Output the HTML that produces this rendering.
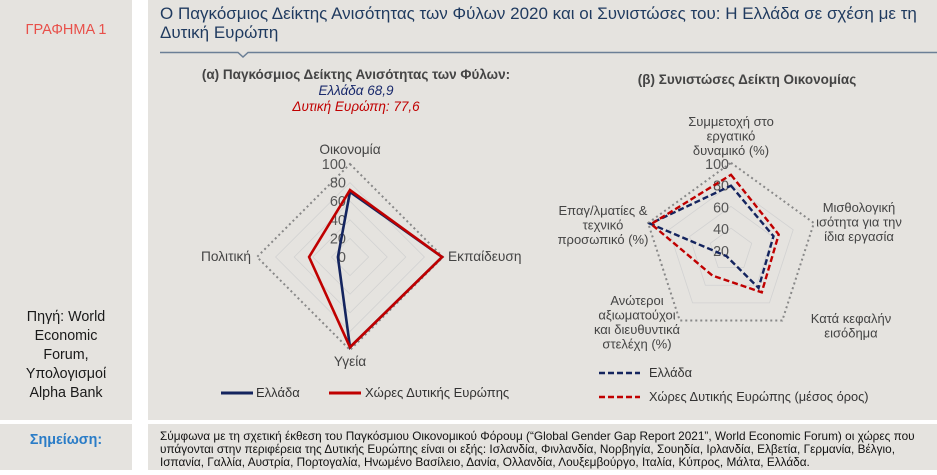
<!DOCTYPE html>
<html><head><meta charset="utf-8">
<style>
html,body{margin:0;padding:0;background:#fff;}
body{width:937px;height:470px;overflow:hidden;font-family:"Liberation Sans",sans-serif;}
svg text{font-family:"Liberation Sans","DejaVu Sans",sans-serif;}
</style></head><body>
<svg id="root" width="937" height="470" viewBox="0 0 937 470" xmlns="http://www.w3.org/2000/svg">
<rect x="0" y="0" width="937" height="470" fill="#ffffff"/>
<rect x="0" y="0" width="132" height="420" fill="#e5e3df"/>
<rect x="148" y="0" width="789" height="420" fill="#e5e3df"/>
<rect x="0" y="424" width="132" height="46" fill="#e5e3df"/>
<rect x="148" y="424" width="789" height="46" fill="#e5e3df"/>
<text x="66" y="34" text-anchor="middle" font-size="14.5" fill="#e8504a">ΓΡΑΦΗΜΑ 1</text>
<g font-size="14.3" fill="#1a1a1a" text-anchor="middle">
<text x="66" y="321">Πηγή: World</text><text x="66" y="340">Economic</text><text x="66" y="359">Forum,</text><text x="66" y="378">Υπολογισμοί</text><text x="66" y="397">Alpha Bank</text>
</g>
<text x="66" y="444" text-anchor="middle" font-size="14.3" font-weight="bold" fill="#2a7cc7">Σημείωση:</text>
<g font-size="17" fill="#1f3a5f">
<text x="160" y="19">Ο Παγκόσμιος Δείκτης Ανισότητας των Φύλων 2020 και οι Συνιστώσες του: Η Ελλάδα σε σχέση με τη</text>
<text x="160" y="38">Δυτική Ευρώπη</text>
</g>
<path d="M160 52.5 H238 L243 57 L248 52.5 H937" stroke="#6b7f96" stroke-width="1.5" fill="none"/>
<g font-size="11.8" fill="#111">
<text x="160" y="440">Σύμφωνα με τη σχετική έκθεση του Παγκόσμιου Οικονομικού Φόρουμ (“Global Gender Gap Report 2021”, World Economic Forum) οι χώρες που</text>
<text x="160" y="453">υπάγονται στην περιφέρεια της Δυτικής Ευρώπης είναι οι εξής: Ισλανδία, Φινλανδία, Νορβηγία, Σουηδία, Ιρλανδία, Ελβετία, Γερμανία, Βέλγιο,</text>
<text x="160" y="466">Ισπανία, Γαλλία, Αυστρία, Πορτογαλία, Ηνωμένο Βασίλειο, Δανία, Ολλανδία, Λουξεμβούργο, Ιταλία, Κύπρος, Μάλτα, Ελλάδα.</text>
</g>
<g font-size="13.5" text-anchor="middle">
<text x="356" y="79" font-weight="bold" fill="#444">(α) Παγκόσμιος Δείκτης Ανισότητας των Φύλων:</text>
<text x="356" y="95" font-style="italic" fill="#1a2a6c">Ελλάδα 68,9</text>
<text x="356" y="111" font-style="italic" fill="#c00000">Δυτική Ευρώπη: 77,6</text>
</g>
<text x="747" y="84" text-anchor="middle" font-size="13.5" font-weight="bold" fill="#444">(β) Συνιστώσες Δείκτη Οικονομίας</text>
<g id="chartA"></g>
<g id="chartB"></g>
<g font-size="13" fill="#333">
<line x1="221" y1="393" x2="253" y2="393" stroke="#14245e" stroke-width="3"/>
<text x="256" y="397">Ελλάδα</text>
<line x1="329" y1="393" x2="361" y2="393" stroke="#c00000" stroke-width="3"/>
<text x="365" y="397">Χώρες Δυτικής Ευρώπης</text>
</g>
<g font-size="12.8" fill="#333">
<line x1="599" y1="373" x2="640" y2="373" stroke="#14245e" stroke-width="2.5" stroke-dasharray="6,3"/>
<text x="649" y="377">Ελλάδα</text>
<line x1="599" y1="397" x2="640" y2="397" stroke="#c00000" stroke-width="2.5" stroke-dasharray="6,3"/>
<text x="649" y="401">Χώρες Δυτικής Ευρώπης (μέσος όρος)</text>
</g>
</svg>
<script>
const aCategories = ["Οικονομία","Εκπαίδευση","Υγεία","Πολιτική"];
const aGreece = [70, 99, 97, 13];
const aWestEurope = [72, 99, 97, 44];
const aTicks = ["0","20","40","60","80","100"];
const bCategories = [["Συμμετοχή στο","εργατικό","δυναμικό (%)"],["Μισθολογική","ισότητα για την","ίδια εργασία"],["Κατά κεφαλήν","εισόδημα"],["Ανώτεροι","αξιωματούχοι","και διευθυντικά","στελέχη (%)"],["Επαγ/λματίες &","τεχνικό","προσωπικό (%)"]];
const bGreece = [79, 61, 63, 27, 98];
const bWestEurope = [89, 66, 68, 49, 97];
const bTicks = ["20","40","60","80","100"];

const NS = "http://www.w3.org/2000/svg";
function mk(parent, tag, attrs){const e=document.createElementNS(NS,tag);for(const k in attrs)e.setAttribute(k,attrs[k]);parent.appendChild(e);return e;}

function radar(g, cx, cy, R, n, min, max){
  return function(i, v){const ang=-Math.PI/2+2*Math.PI*i/n;const r=R*(v-min)/(max-min);return [cx+r*Math.cos(ang), cy+r*Math.sin(ang)];};
}

// Chart A
(function(){
  const g=document.getElementById("chartA");
  const cx=350, cy=257, R=93, n=aCategories.length;
  const P=radar(g,cx,cy,R,n,0,100);
  [20,40,60,80,100].forEach(function(t){
    const pts=aCategories.map((c,i)=>P(i,t).join(",")).join(" ");
    const ring=mk(g,"polygon",{points:pts,fill:"none",stroke:t===100?"#888":"#d2d2d2","stroke-width":t===100?2:0.8,"stroke-dasharray":t===100?"2,3":"none"});
    
    
  });
  aTicks.forEach(function(t){
    const p=P(0,+t);
    const tx=mk(g,"text",{x:cx-4,y:p[1]+5,"text-anchor":"end","font-size":"14.5",fill:"#555"});
    tx.textContent=t;
    
    
  });
  const lab=[[0,-10,"middle"],[5,4,"start"],[0,16,"middle"],[-6,4,"end"]];
  aCategories.forEach(function(c,i){
    const p=P(i,100);
    const tx=mk(g,"text",{x:p[0]+lab[i][0],y:p[1]+lab[i][1],"text-anchor":lab[i][2],"font-size":"13.7",fill:"#444"});
    tx.textContent=c;
    
    
  });
  [[aGreece,"#14245e"],[aWestEurope,"#c00000"]].forEach(function(s,k){
    const pts=s[0].map((v,i)=>P(i,v).join(",")).join(" ");
    const pl=mk(g,"polygon",{points:pts,fill:"none",stroke:s[1],"stroke-width":2.6,"stroke-linejoin":"miter"});
    
    
  });
})();

// Chart B
(function(){
  const g=document.getElementById("chartB");
  const cx=731, cy=250, R=87.2, n=bCategories.length;
  const P=radar(g,cx,cy,R,n,20,100);
  [40,60,80,100].forEach(function(t){
    const pts=bCategories.map((c,i)=>P(i,t).join(",")).join(" ");
    const ring=mk(g,"polygon",{points:pts,fill:"none",stroke:t===100?"#888":"#d2d2d2","stroke-width":t===100?2:0.8,"stroke-dasharray":t===100?"2,3":"none"});
    
    
  });
  bTicks.forEach(function(t){
    const p=P(0,+t);
    const tx=mk(g,"text",{x:cx-2,y:p[1]+6,"text-anchor":"end","font-size":"14.3",fill:"#555"});
    tx.textContent=t;
    
    
  });
  const lab=[[731,126,"middle"],[859,212,"middle"],[851,323,"middle"],[637,305,"middle"],[603,215,"middle"]];
  bCategories.forEach(function(lines,i){
    const tx=mk(g,"text",{x:lab[i][0],y:lab[i][1],"text-anchor":lab[i][2],"font-size":"13",fill:"#444"});
    
    
    lines.forEach(function(l,j){const ts=mk(tx,"tspan",{x:lab[i][0],dy:j===0?0:14.5});ts.textContent=l;});
  });
  [[bGreece,"#14245e"],[bWestEurope,"#c00000"]].forEach(function(s,k){
    const pts=s[0].map((v,i)=>P(i,v).join(",")).join(" ");
    const pl=mk(g,"polygon",{points:pts,fill:"none",stroke:s[1],"stroke-width":2.4,"stroke-dasharray":"6,3"});
    
    
  });
})();
</script>
</body></html>
